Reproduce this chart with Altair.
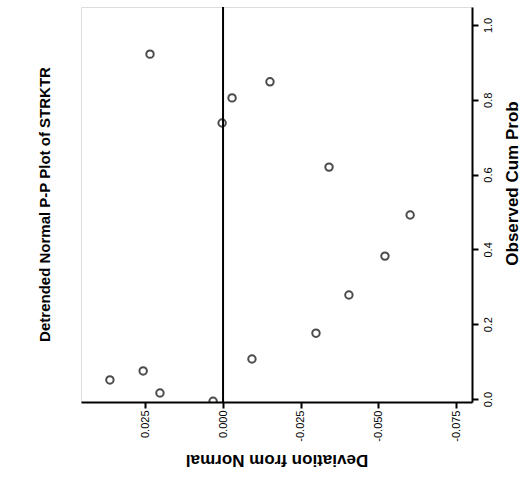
import altair as alt
import pandas as pd

# Detrended normal P-P values: deviation from normal vs. observed cumulative probability
deviation = [0.0364, 0.0257, 0.0203, 0.0032, -0.0093, -0.0299, -0.0405,
             -0.0521, -0.0602, -0.0341, 0.0003, -0.0029, -0.0151, 0.0235]
observed_cum_prob = [0.051, 0.075, 0.016, -0.006, 0.107, 0.176, 0.278,
                     0.382, 0.492, 0.620, 0.738, 0.805, 0.848, 0.922]

dev_ticks = [0.025, 0.0, -0.025, -0.05, -0.075]
prob_ticks = [0.0, 0.2, 0.4, 0.6, 0.8, 1.0]

df = pd.DataFrame({"dev": deviation, "prob": observed_cum_prob})
zero = pd.DataFrame({"dev": [0.0]})

FONT = "Liberation Sans"
MINUS = "\u2212"

x_scale = alt.Scale(domain=[-0.0801, 0.0457], reverse=True, nice=False, zero=False)
y_scale = alt.Scale(domain=[-0.008, 1.048], nice=False, zero=False)

points = alt.Chart(df).mark_point(
    shape="circle", filled=False, color="black", size=55, strokeWidth=2, clip=True
).encode(
    x=alt.X("dev:Q", scale=x_scale,
            axis=alt.Axis(values=dev_ticks, orient="bottom",
                          labelExpr=f"replace(format(datum.value, '.3f'), '{MINUS}', '-')",
                          title="Deviation from Normal", titleAngle=180,
                          titleFontSize=17, titleFontWeight="bold", titleFont=FONT,
                          titleColor="black", titlePadding=26,
                          labelAngle=270, labelFontSize=11,
                          labelFont=FONT, labelColor="black", labelPadding=2,
                          tickSize=6, tickWidth=2, tickColor="black",
                          domainColor="black", domainWidth=2, grid=False)),
    y=alt.Y("prob:Q", scale=y_scale,
            axis=alt.Axis(values=prob_ticks, format=".1f", orient="right",
                          title="Observed Cum Prob", titleAngle=270,
                          titleFontSize=17, titleFontWeight="bold", titleFont=FONT,
                          titleColor="black", titlePadding=28, titleY=176,
                          labelAngle=270, labelAlign="center",
                          labelBaseline="bottom", labelFontSize=11, labelFont=FONT,
                          labelColor="black", labelPadding=15,
                          tickSize=6, tickWidth=2, tickColor="black",
                          domainColor="black", domainWidth=2, grid=False)),
)

zero_line = alt.Chart(zero).mark_rule(color="black", strokeWidth=2).encode(
    x=alt.X("dev:Q", scale=x_scale)
)

chart = alt.layer(zero_line, points).properties(
    width=391,
    height=395,
    title=alt.TitleParams(
        "Detrended Normal P-P Plot of STRKTR",
        orient="left", angle=270, anchor="middle",
        font=FONT, fontSize=15, fontWeight="bold", color="black", offset=28,
    ),
    autosize=alt.AutoSizeParams(type="none"),
    padding={"left": 81, "top": 7, "right": 48, "bottom": 86},
).configure_view(
    stroke="black", strokeWidth=2
).configure(background="white")

chart.save("out.html", embed_options={"renderer": "svg", "actions": False})
